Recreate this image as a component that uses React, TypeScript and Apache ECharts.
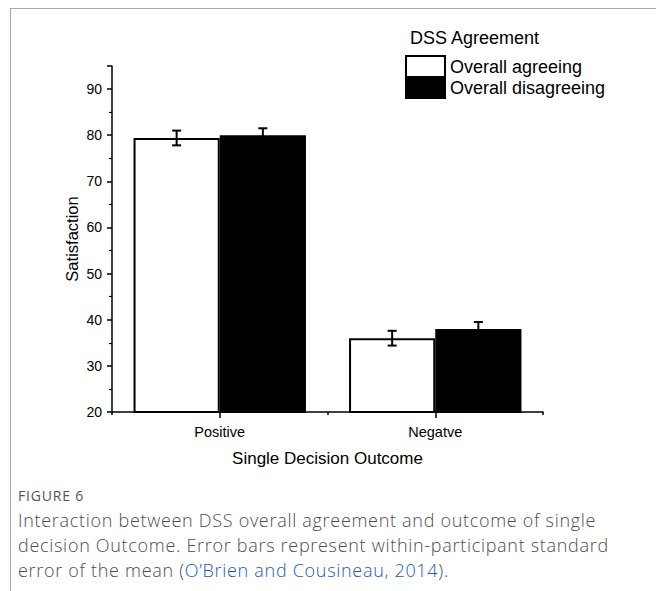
import React, { useEffect, useRef } from "react";
import * as echarts from "echarts";

const categories = ["Positive", "Negatve"];
const seriesNames = ["Overall agreeing", "Overall disagreeing"];
const agreeing = [79.4, 36.0];
const disagreeing = [80.0, 38.0];
const agreeingErr = [1.6, 1.6];
const disagreeingErr = [1.5, 1.5];
const yTicks = [20, 30, 40, 50, 60, 70, 80, 90];

const FONT = "'Liberation Sans', Arial, sans-serif";

export default function App() {
  const ref = useRef<HTMLDivElement>(null);
  useEffect(() => {
    if (!ref.current) return;
    const chart = echarts.init(ref.current, undefined, { renderer: "svg" });

    const errData = (vals: number[], errs: number[], s: number) =>
      vals.map((v, i) => [i, v - errs[i], v + errs[i], s]);

    const renderErr = (params: any, api: any) => {
      const idx = api.value(0);
      const lo = api.value(1);
      const hi = api.value(2);
      const s = api.value(3);
      const catW = api.size([1, 0])[0];
      const off = (s === 0 ? -1 : 1) * catW * 0.2;
      const pLo = api.coord([idx, lo]);
      const pHi = api.coord([idx, hi]);
      const x = pLo[0] + off;
      const cap = 4.5;
      const style = { stroke: "#000", lineWidth: 2, fill: "none" };
      return {
        type: "group",
        children: [
          { type: "line", shape: { x1: x, y1: pLo[1], x2: x, y2: pHi[1] }, style },
          { type: "line", shape: { x1: x - cap, y1: pLo[1], x2: x + cap, y2: pLo[1] }, style },
          { type: "line", shape: { x1: x - cap, y1: pHi[1], x2: x + cap, y2: pHi[1] }, style },
        ],
      };
    };

    chart.setOption({
      animation: false,
      textStyle: { fontFamily: FONT, color: "#000" },
      grid: { left: 112, right: 113, top: 66, bottom: 179, containLabel: false },
      legend: {
        data: seriesNames,
        orient: "vertical",
        left: 405,
        top: 55,
        icon: "rect",
        itemWidth: 39,
        itemHeight: 21,
        itemGap: -2,
        textStyle: { fontFamily: FONT, fontSize: 18, color: "#000", lineHeight: 18 },
        padding: 0,
      },
      graphic: [
        {
          type: "text",
          left: 410,
          top: 29,
          style: { text: "DSS Agreement", font: `18px ${FONT}`, fill: "#000" },
        },
      ],
      xAxis: [
        {
          type: "category",
          data: categories,
          name: "Single Decision Outcome",
          nameLocation: "middle",
          nameGap: 38,
          nameMoveOverlap: false,
          nameTextStyle: { fontFamily: FONT, fontSize: 17, color: "#000" },
          axisLine: { lineStyle: { color: "#000", width: 1.5 } },
          axisTick: { show: true, length: 3, lineStyle: { color: "#000", width: 1.5 } },
          axisLabel: { fontFamily: FONT, fontSize: 14.5, color: "#000", margin: 12 },
        },
        {
          type: "category",
          data: categories,
          position: "bottom",
          axisLine: { show: false },
          axisTick: { show: true, alignWithLabel: true, length: 6, lineStyle: { color: "#000", width: 1.5 } },
          axisLabel: { show: false },
        },
      ],
      yAxis: {
        type: "value",
        min: 20,
        max: 95,
        interval: 10,
        name: "Satisfaction",
        nameLocation: "middle",
        nameGap: 32,
        nameMoveOverlap: false,
        nameTextStyle: { fontFamily: FONT, fontSize: 16.5, color: "#000" },
        axisLine: { show: true, lineStyle: { color: "#000", width: 1.5 } },
        axisTick: { show: true, length: 5, lineStyle: { color: "#000", width: 1.5 } },
        minorTick: { show: true, splitNumber: 2, length: 3, lineStyle: { color: "#000", width: 1.2 } },
        splitLine: { show: false },
        axisLabel: {
          fontFamily: FONT,
          fontSize: 14,
          color: "#000",
          margin: 10,
          showMaxLabel: false,
          formatter: (v: number) => (yTicks.includes(v) ? String(v) : ""),
        },
      },
      series: [
        {
          name: seriesNames[0],
          type: "bar",
          data: agreeing,
          barGap: "0%",
          barCategoryGap: "20%",
          itemStyle: { color: "#fff", borderColor: "#000", borderWidth: 2 },
        },
        {
          name: seriesNames[1],
          type: "bar",
          data: disagreeing,
          barGap: "0%",
          barCategoryGap: "20%",
          itemStyle: { color: "#000", borderColor: "#000", borderWidth: 2 },
        },
        {
          type: "custom",
          name: "err0",
          renderItem: renderErr,
          encode: { x: 0, y: [1, 2] },
          data: errData(agreeing, agreeingErr, 0),
          z: 10,
        },
        {
          type: "custom",
          name: "err1",
          renderItem: renderErr,
          encode: { x: 0, y: [1, 2] },
          data: errData(disagreeing, disagreeingErr, 1),
          z: 10,
        },
      ],
    });
    return () => chart.dispose();
  }, []);

  return (
    <div style={{ position: "fixed", left: 0, top: 0, width: 656, height: 591, background: "#fff", overflow: "hidden" }}>
      <div
        style={{
          position: "absolute",
          left: 10,
          top: 8,
          width: 700,
          height: 700,
          border: "1px solid #a8a8a8",
          boxSizing: "border-box",
        }}
      />
      <div ref={ref} style={{ position: "absolute", left: 0, top: 0, width: 656, height: 591 }} />
      <div
        style={{
          position: "absolute",
          left: 18,
          top: 486,
          fontFamily: "'Open Sans', 'Noto Sans', sans-serif",
          fontSize: 14,
          fontWeight: 500,
          color: "#555",
          letterSpacing: 0.8,
        }}
      >
        FIGURE 6
      </div>
      <div
        style={{
          position: "absolute",
          left: 18,
          top: 508,
          width: 640,
          fontFamily: "'Open Sans', 'Noto Sans', sans-serif",
          fontSize: 18,
          fontWeight: 300,
          lineHeight: "25px",
          letterSpacing: 0.7,
          color: "#4d4d4d",
          whiteSpace: "nowrap",
        }}
      >
        Interaction between DSS overall agreement and outcome of single
        <br />
        decision Outcome. Error bars represent within-participant standard
        <br />
        error of the mean (<span style={{ color: "#1a57c2" }}>O’Brien and Cousineau, 2014</span>).
      </div>
    </div>
  );
}
